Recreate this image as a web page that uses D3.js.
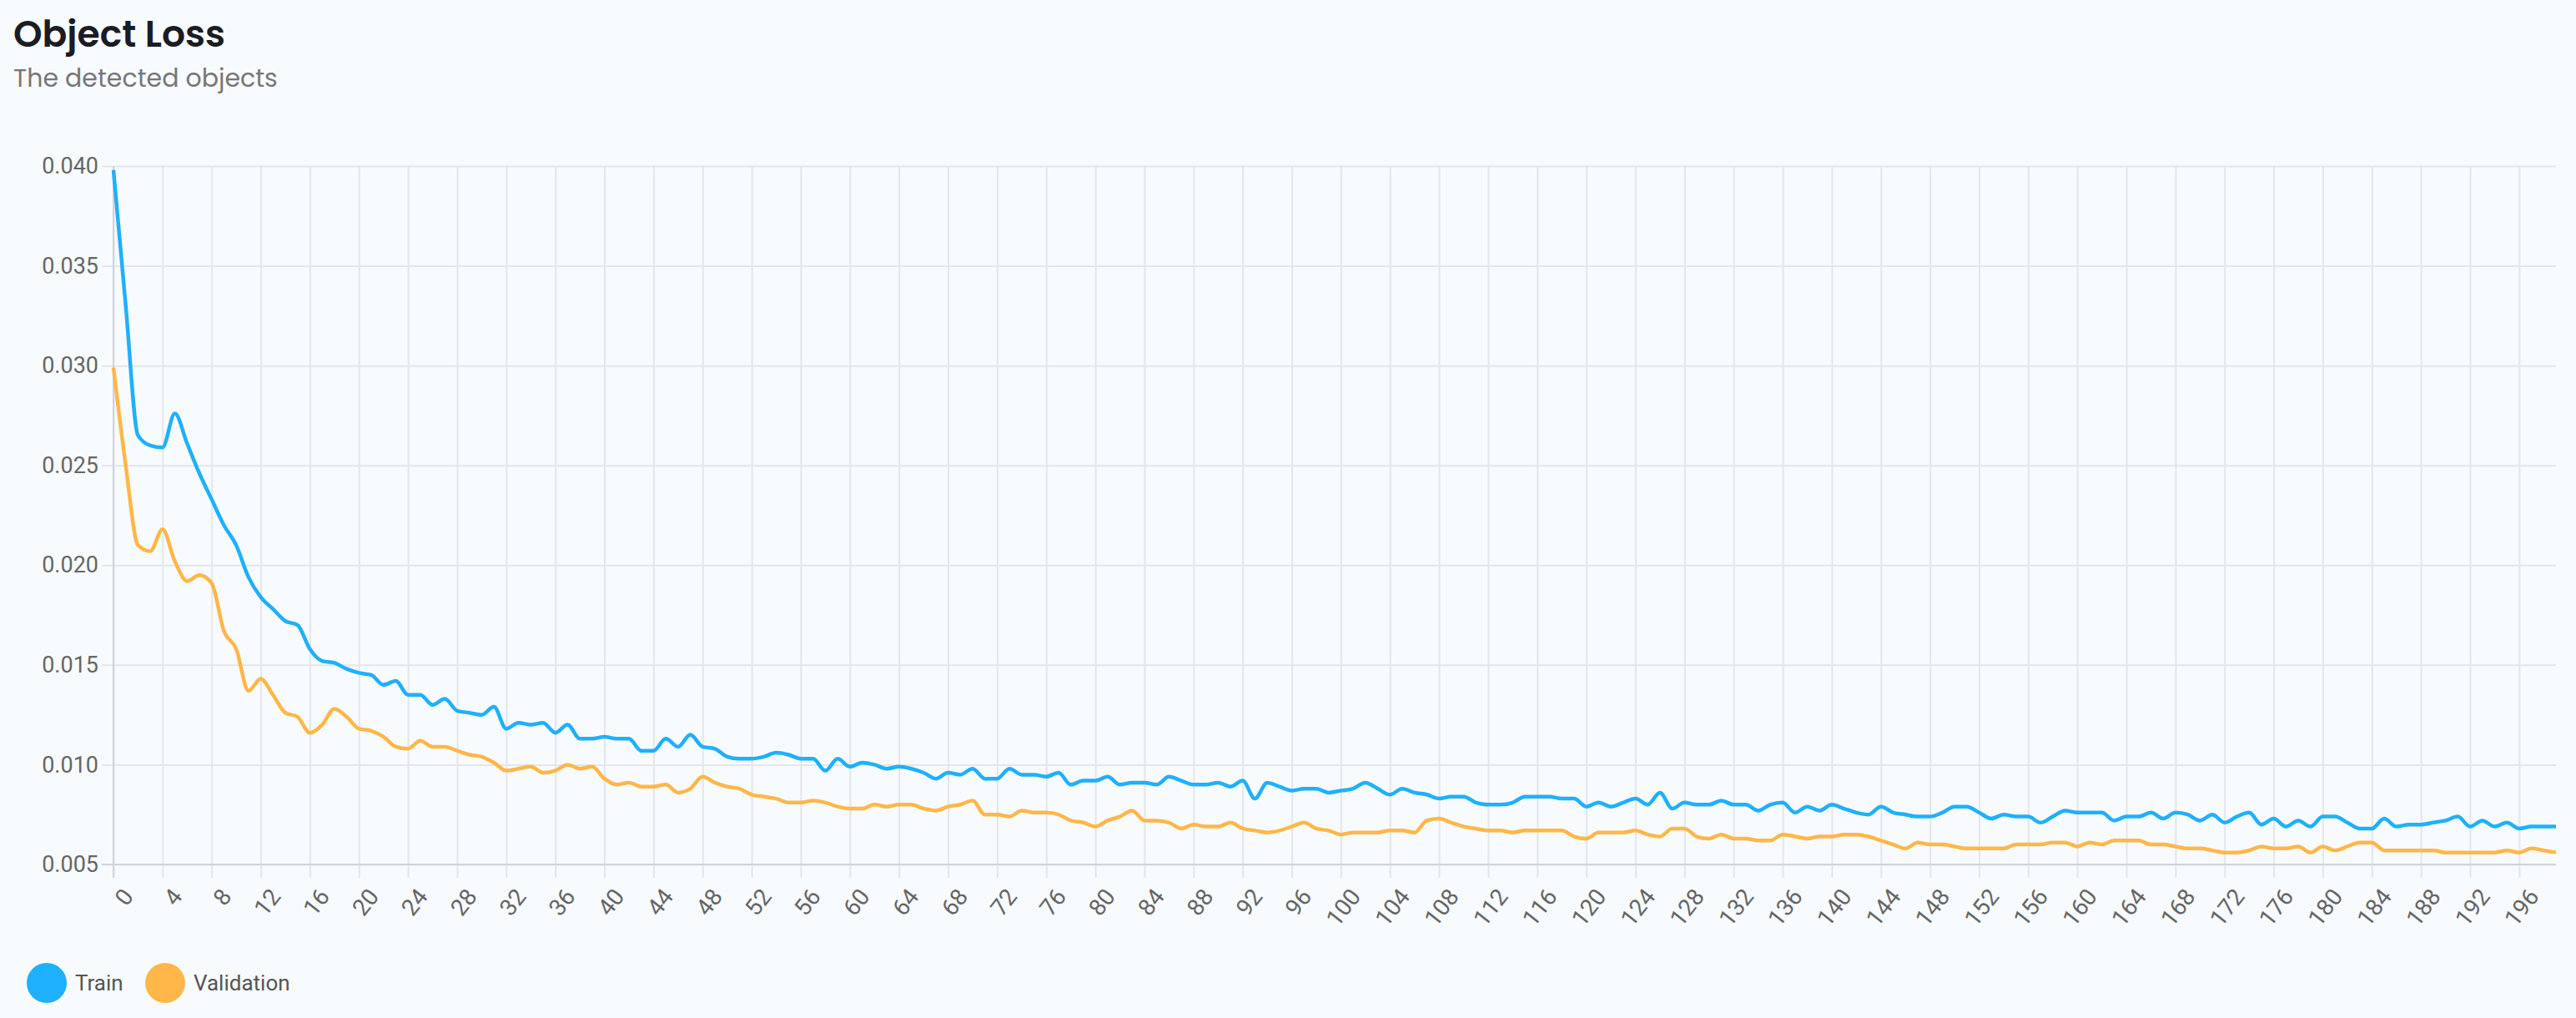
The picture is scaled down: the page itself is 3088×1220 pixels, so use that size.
<!DOCTYPE html>
<html><head><meta charset="utf-8">
<script src="https://cdn.jsdelivr.net/npm/d3@7/dist/d3.min.js"></script>
<style>body{margin:0;background:#f8fbfe;}svg{display:block;}</style>
</head><body>
<svg id="c" width="3088" height="1220"></svg>
<script>
const title = "Object Loss";
const subtitle = "The detected objects";
const seriesNames = ["Train", "Validation"];
const yTicks = [0.005,0.010,0.015,0.020,0.025,0.030,0.035,0.040];
const train = [0.0398,0.0330,0.0265,0.0260,0.0259,0.0276,0.0261,0.0246,0.0233,0.0220,0.0210,0.0194,0.0184,0.0178,0.0172,0.0170,0.0158,0.0152,0.0151,0.0148,
0.0146,0.0145,0.0140,0.0142,0.0135,0.0135,0.0130,0.0133,0.0127,0.0126,0.0125,0.0129,0.0118,0.0121,0.0120,0.0121,0.0116,0.0120,0.0113,0.0113,
0.0114,0.0113,0.0113,0.0107,0.0107,0.0113,0.0109,0.0115,0.0109,0.0108,0.0104,0.0103,0.0103,0.0104,0.0106,0.0105,0.0103,0.0103,0.0097,0.0103,
0.0099,0.0101,0.0100,0.0098,0.0099,0.0098,0.0096,0.0093,0.0096,0.0095,0.0098,0.0093,0.0093,0.0098,0.0095,0.0095,0.0094,0.0096,0.0090,0.0092,
0.0092,0.0094,0.0090,0.0091,0.0091,0.0090,0.0094,0.0092,0.0090,0.0090,0.0091,0.0089,0.0092,0.0083,0.0091,0.0089,0.0087,0.0088,0.0088,0.0086,
0.0087,0.0088,0.0091,0.0088,0.0085,0.0088,0.0086,0.0085,0.0083,0.0084,0.0084,0.0081,0.0080,0.0080,0.0081,0.0084,0.0084,0.0084,0.0083,0.0083,
0.0079,0.0081,0.0079,0.0081,0.0083,0.0080,0.0086,0.0078,0.0081,0.0080,0.0080,0.0082,0.0080,0.0080,0.0077,0.0080,0.0081,0.0076,0.0079,0.0077,
0.0080,0.0078,0.0076,0.0075,0.0079,0.0076,0.0075,0.0074,0.0074,0.0076,0.0079,0.0079,0.0076,0.0073,0.0075,0.0074,0.0074,0.0071,0.0074,0.0077,
0.0076,0.0076,0.0076,0.0072,0.0074,0.0074,0.0076,0.0073,0.0076,0.0075,0.0072,0.0075,0.0071,0.0074,0.0076,0.0070,0.0073,0.0069,0.0072,0.0069,
0.0074,0.0074,0.0071,0.0068,0.0068,0.0073,0.0069,0.0070,0.0070,0.0071,0.0072,0.0074,0.0069,0.0072,0.0069,0.0071,0.0068,0.0069,0.0069,0.0069];
const validation = [0.0299,0.0250,0.0210,0.0207,0.0218,0.0202,0.0192,0.0195,0.0191,0.0167,0.0158,0.0137,0.0143,0.0135,0.0126,0.0124,0.0116,0.0120,0.0128,0.0124,
0.0118,0.0117,0.0114,0.0109,0.0108,0.0112,0.0109,0.0109,0.0107,0.0105,0.0104,0.0101,0.0097,0.0098,0.0099,0.0096,0.0097,0.0100,0.0098,0.0099,
0.0093,0.0090,0.0091,0.0089,0.0089,0.0090,0.0086,0.0088,0.0094,0.0091,0.0089,0.0088,0.0085,0.0084,0.0083,0.0081,0.0081,0.0082,0.0081,0.0079,
0.0078,0.0078,0.0080,0.0079,0.0080,0.0080,0.0078,0.0077,0.0079,0.0080,0.0082,0.0075,0.0075,0.0074,0.0077,0.0076,0.0076,0.0075,0.0072,0.0071,
0.0069,0.0072,0.0074,0.0077,0.0072,0.0072,0.0071,0.0068,0.0070,0.0069,0.0069,0.0071,0.0068,0.0067,0.0066,0.0067,0.0069,0.0071,0.0068,0.0067,
0.0065,0.0066,0.0066,0.0066,0.0067,0.0067,0.0066,0.0072,0.0073,0.0071,0.0069,0.0068,0.0067,0.0067,0.0066,0.0067,0.0067,0.0067,0.0067,0.0064,
0.0063,0.0066,0.0066,0.0066,0.0067,0.0065,0.0064,0.0068,0.0068,0.0064,0.0063,0.0065,0.0063,0.0063,0.0062,0.0062,0.0065,0.0064,0.0063,0.0064,
0.0064,0.0065,0.0065,0.0064,0.0062,0.0060,0.0058,0.0061,0.0060,0.0060,0.0059,0.0058,0.0058,0.0058,0.0058,0.0060,0.0060,0.0060,0.0061,0.0061,
0.0059,0.0061,0.0060,0.0062,0.0062,0.0062,0.0060,0.0060,0.0059,0.0058,0.0058,0.0057,0.0056,0.0056,0.0057,0.0059,0.0058,0.0058,0.0059,0.0056,
0.0059,0.0057,0.0059,0.0061,0.0061,0.0057,0.0057,0.0057,0.0057,0.0057,0.0056,0.0056,0.0056,0.0056,0.0056,0.0057,0.0056,0.0058,0.0057,0.0056];
const colors = ["#1fb0fb","#ffb74a"];
const epochs = d3.range(train.length);

const svg = d3.select("#c");
const M = {l:136, r:3064, t:199, b:1036};
const x = d3.scaleLinear().domain([0, epochs.length-1]).range([M.l, M.r]);
const y = d3.scaleLinear().domain([0.005, 0.040]).range([M.b, M.t]);
const font = "Roboto, 'Open Sans', sans-serif";

svg.append("text").attr("x",16).attr("y",56).attr("font-family","Poppins, Inter, sans-serif")
  .attr("font-size",44).attr("font-weight",600).attr("fill","#1c1c24").text(title);
svg.append("text").attr("x",16).attr("y",104).attr("font-family","Poppins, Inter, sans-serif")
  .attr("font-size",30).attr("fill","#777").text(subtitle);

const xTickVals = epochs.filter(d => d % 4 === 0);
svg.append("g").attr("transform",`translate(0,${M.b})`)
  .call(d3.axisBottom(x).tickValues(xTickVals).tickSize(-(M.b-M.t)).tickSizeOuter(0).tickFormat(""))
  .call(g=>g.select(".domain").remove())
  .call(g=>g.selectAll("line").attr("stroke","#e3e6ea").attr("stroke-width",2));
const xa = svg.append("g").attr("transform",`translate(0,${M.b})`)
  .call(d3.axisBottom(x).tickValues(xTickVals).tickSize(16).tickSizeOuter(0).tickPadding(8))
  .call(g=>g.select(".domain").remove())
  .call(g=>g.selectAll("line").attr("stroke","#e3e6ea").attr("stroke-width",2));
xa.selectAll("text").attr("font-family",font).attr("font-size",28).attr("fill","#666")
  .attr("text-anchor","end").attr("dy","0.35em")
  .attr("transform", "translate(-2,18) rotate(-52)");
const ya = svg.append("g").attr("transform",`translate(${M.l},0)`)
  .call(d3.axisLeft(y).tickValues(yTicks).tickSize(-(M.r-M.l)).tickPadding(18).tickFormat(d3.format(".3f")))
  .call(g=>g.select(".domain").remove())
  .call(g=>g.selectAll("line").attr("stroke","#e3e6ea").attr("stroke-width",2).attr("x1",-14));
ya.selectAll("text").attr("font-family",font).attr("font-size",27).attr("fill","#666");
svg.append("line").attr("x1",M.l).attr("x2",M.l).attr("y1",M.t).attr("y2",M.b+16).attr("stroke","#d0d3d8").attr("stroke-width",2);
svg.append("line").attr("x1",M.l-14).attr("x2",M.r).attr("y1",M.b).attr("y2",M.b).attr("stroke","#d0d3d8").attr("stroke-width",2);

const line = d3.line().x((d,i)=>x(i)).y(d=>y(d)).curve(d3.curveMonotoneX);
[train, validation].forEach((s,k)=>{
  svg.append("path").datum(s).attr("d",line).attr("fill","none")
    .attr("stroke",colors[k]).attr("stroke-width",4.5).attr("stroke-linejoin","round");
});

const lg = svg.append("g").attr("transform","translate(0,1178)");
const lx = [56, 198];
seriesNames.forEach((n,k)=>{
  lg.append("ellipse").attr("cx",lx[k]).attr("cy",0).attr("rx",24).attr("ry",24).attr("fill",colors[k]);
  lg.append("text").attr("x",lx[k]+34).attr("y",0).attr("dy","0.35em").attr("font-family",font)
    .attr("font-size",26).attr("fill","#555").text(n);
});
</script>
</body></html>
